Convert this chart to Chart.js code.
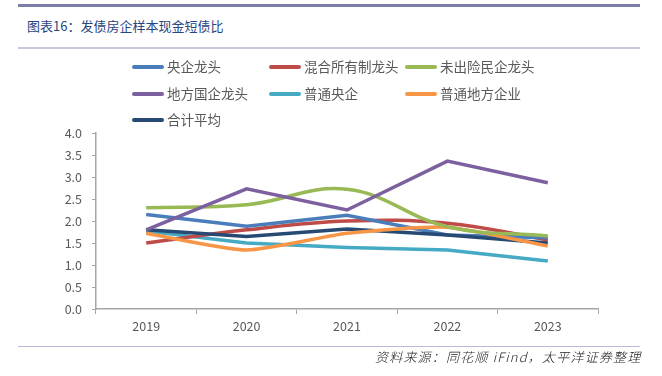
<!DOCTYPE html>
<html>
<head>
<meta charset="utf-8">
<script src="https://cdn.jsdelivr.net/npm/chart.js@4"></script>
<style>
  body { margin: 0; background: #fff; }
  #wrap { position: relative; width: 662px; height: 376px; overflow: hidden; font-family: "Noto Sans CJK SC", sans-serif; }
  #topbar { position: absolute; left: 18px; top: 4px; width: 622px; height: 3px; background: #7b7ea6; }
  #title { position: absolute; left: 27px; top: 16px; font-size: 13px; color: #27457f; font-weight: 400; }
  #titleline { position: absolute; left: 18px; top: 47px; width: 622px; height: 2px; background: #c7c8d8; }
  #srcline { position: absolute; left: 18px; top: 346px; width: 622px; height: 1px; background: #b8bad6; }
  #source { position: absolute; left: 375px; top: 347px; font-size: 13px; letter-spacing: 1.2px; font-style: italic; color: #222; font-weight: 300; }
  #chart { position: absolute; left: 0; top: 0; }
  .lg { position: absolute; font-size: 13.5px; color: #595959; line-height: 16px; white-space: nowrap; }
  .lg span { display: inline-block; width: 32px; height: 4px; border-radius: 2px; vertical-align: middle; margin-right: 3px; position: relative; top: -1px; }
</style>
</head>
<body>
<div id="wrap">
  <div id="topbar"></div>
  <div id="title">图表16：发债房企样本现金短债比</div>
  <div id="titleline"></div>
  <canvas id="chart" width="662" height="376"></canvas>
  <div id="legend"></div>
  <div id="srcline"></div>
  <div id="source">资料来源：同花顺 iFind，太平洋证券整理</div>
</div>
<script>
// categories and series
var years = ["2019", "2020", "2021", "2022", "2023"];
var seriesNames = ["央企龙头", "混合所有制龙头", "未出险民企龙头", "地方国企龙头", "普通央企", "普通地方企业", "合计平均"];
var yangqi = [2.15, 1.88, 2.13, 1.68, 1.62];
var hunhe = [1.50, 1.80, 2.00, 1.95, 1.57];
var minqi = [2.30, 2.37, 2.72, 1.87, 1.66];
var difang = [1.80, 2.73, 2.25, 3.36, 2.87];
var putongYangqi = [1.77, 1.50, 1.40, 1.34, 1.09];
var putongDifang = [1.72, 1.34, 1.72, 1.86, 1.43];
var heji = [1.80, 1.65, 1.82, 1.68, 1.50];
var yTicks = [0, 0.5, 1, 1.5, 2, 2.5, 3, 3.5, 4];

var colors = ["#4a7ebb", "#be4b48", "#98b954", "#7d60a0", "#46aac5", "#f79646", "#264a73"];
var smooth = [0, 0.4, 0.4, 0, 0, 0.2, 0];
var values = [yangqi, hunhe, minqi, difang, putongYangqi, putongDifang, heji];

var datasets = [];
for (i = 0; i < seriesNames.length; i++) {
  datasets.push({
    label: seriesNames[i],
    data: values[i],
    borderColor: colors[i],
    backgroundColor: colors[i],
    borderWidth: 3.5,
    pointRadius: 0,
    tension: smooth[i],
    fill: false
  });
}
// draw navy and purple on top like the reference
var order = [4, 5, 1, 0, 6, 2, 3];
datasets.forEach(function (d, i) { d.order = order[i]; });

// legend grid (3 columns)
var legendPos = [[132, 66], [269, 66], [405, 66], [132, 93], [269, 93], [405, 93], [132, 119]];
var lg = document.getElementById("legend");
for (i = 0; i < seriesNames.length; i++) {
  var el = document.createElement("div");
  el.className = "lg";
  el.style.left = legendPos[i][0] + "px";
  el.style.top = (legendPos[i][1] - 8) + "px";
  el.innerHTML = '<span style="background:' + colors[i] + '"></span>' + seriesNames[i];
  lg.appendChild(el);
}

var ctx = document.getElementById("chart").getContext("2d");
var myChart = new Chart(ctx, {
  type: "line",
  data: { labels: years, datasets: datasets },
  options: {
    responsive: false,
    animation: false,
    layout: { padding: { left: 0, top: 133, right: 64, bottom: 0 } },
    plugins: { legend: { display: false }, tooltip: { enabled: false } },
    scales: {
      x: {
        offset: true,
        grid: { offset: true, drawOnChartArea: false, drawTicks: true, tickLength: 5, color: "#a6a6a6", lineWidth: 1 },
        border: { color: "#a6a6a6", width: 1.5 },
        ticks: { color: "#595959", font: { size: 12.5, family: "Noto Sans CJK SC" }, padding: 5, maxRotation: 0 },
        afterFit: function (scale) { scale.height = 67; }
      },
      y: {
        min: 0,
        max: 4,
        afterBuildTicks: function (scale) { scale.ticks = yTicks.map(function (v) { return { value: v }; }); },
        grid: { drawOnChartArea: false, drawTicks: true, tickLength: 4, color: "#a6a6a6" },
        border: { color: "#a6a6a6", width: 1.5 },
        ticks: {
          color: "#595959",
          font: { size: 12.5, family: "Noto Sans CJK SC" },
          padding: 10,
          callback: function (v) { return Number(v).toFixed(1); }
        },
        afterFit: function (scale) { scale.width = 96; }
      }
    }
  }
});
</script>
</body>
</html>
